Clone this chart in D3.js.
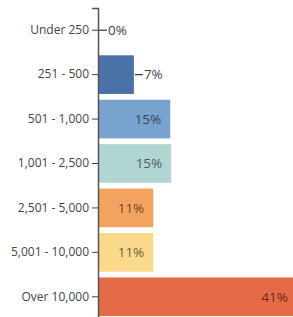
<!DOCTYPE html>
<html>
<head>
<meta charset="utf-8">
<script src="https://cdn.jsdelivr.net/npm/d3@7"></script>
<style>
  body { margin: 0; background: #fff; }
  svg { display: block; font-family: "Open Sans", sans-serif; }
</style>
</head>
<body>
<div id="chart"></div>
<script>
var categories = ['Under 250', '251 - 500', '501 - 1,000', '1,001 - 2,500',
  '2,501 - 5,000', '5,001 - 10,000', 'Over 10,000'];
var values = [0, 7.4, 14.9, 15.1, 11.4, 11.4, 41]; // percent
var colours = ['#4b72a8', '#4b72a8', '#79a3cf', '#b1d5d3', '#f3a35f', '#fad98a', '#e56a47'];

var width = 293,
  height = 317,
  margin = { top: 8, right: 0, bottom: 0, left: 98 };

var data = categories.map(function(c, i) {
  return { cat: c, value: values[i], colour: colours[i] };
});

var svg = d3.select('#chart')
  .append('svg')
  .attr('width', width)
  .attr('height', height);

var g = svg.append('g')
  .attr('transform', 'translate(' + margin.left + ',' + margin.top + ')');

var x = d3.scaleLinear()
  .domain([0, 42])
  .range([0, 203.7]);

var y = d3.scaleBand()
  .domain(categories)
  .range([0, 311])
  .paddingInner(0.13)
  .paddingOuter(0.065);

g.selectAll('rect.bar')
  .data(data)
  .enter()
  .append('rect')
  .attr('class', 'bar')
  .attr('x', 0)
  .attr('y', function(d) { return y(d.cat); })
  .attr('width', function(d) { return x(d.value); })
  .attr('height', y.bandwidth())
  .attr('fill', function(d) { return d.colour; });

// labels: inside the bar when it is wide enough, else outside with a leader line
var small = function(d) { return x(d.value) < 40; };

g.selectAll('line.leader')
  .data(data.filter(small))
  .enter()
  .append('line')
  .attr('class', 'leader')
  .attr('x1', function(d) { return x(d.value) + 1; })
  .attr('x2', function(d) { return x(d.value) + 9; })
  .attr('y1', function(d) { return y(d.cat) + y.bandwidth() / 2; })
  .attr('y2', function(d) { return y(d.cat) + y.bandwidth() / 2; })
  .attr('stroke', '#333')
  .attr('stroke-width', 1.2);

g.selectAll('text.val')
  .data(data)
  .enter()
  .append('text')
  .attr('class', 'val')
  .attr('x', function(d) { return small(d) ? x(d.value) + 10 : x(d.value) - 9; })
  .attr('y', function(d) { return y(d.cat) + y.bandwidth() / 2; })
  .attr('dy', '0.35em')
  .attr('text-anchor', function(d) { return small(d) ? 'start' : 'end'; })
  .attr('font-size', 13.5)
  .attr('fill', function(d) { return small(d) ? '#444' : '#000'; })
  .attr('fill-opacity', function(d) { return small(d) ? 1 : 0.62; })
  .text(function(d) { return Math.round(d.value) + '%'; });

var yAxis = g.append('g')
  .call(d3.axisLeft(y).tickSizeOuter(0).tickSize(6).tickPadding(3));

yAxis.select('.domain')
  .attr('stroke', '#555')
  .attr('stroke-width', 1.5);
yAxis.selectAll('.tick line')
  .attr('stroke', '#444');
yAxis.selectAll('.tick text')
  .attr('font-size', 12)
  .attr('font-family', '"Open Sans", sans-serif')
  .attr('fill', '#444');
</script>
</body>
</html>
